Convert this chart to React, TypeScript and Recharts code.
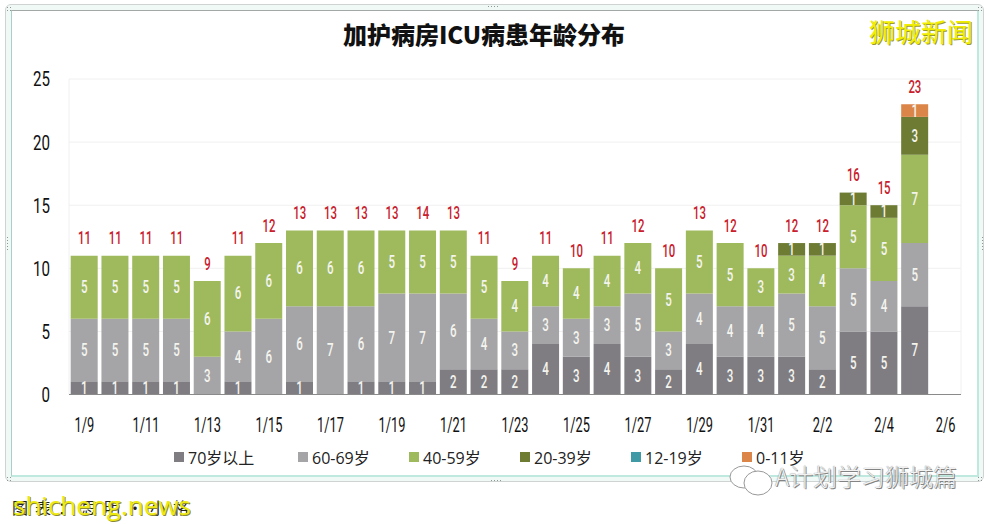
import React from 'react';
import { ComposedChart, Bar, Line, XAxis, YAxis, CartesianGrid, LabelList } from 'recharts';

const dates = ['1/9','1/10','1/11','1/12','1/13','1/14','1/15','1/16','1/17','1/18','1/19','1/20','1/21','1/22','1/23','1/24','1/25','1/26','1/27','1/28','1/29','1/30','1/31','2/1','2/2','2/3','2/4','2/5','2/6'];
const over70 = [1,1,1,1,0,1,0,1,0,1,1,1,2,2,2,4,3,4,3,2,4,3,3,3,2,5,5,7,0];
const age60 = [5,5,5,5,3,4,6,6,7,6,7,7,6,4,3,3,3,3,5,3,4,4,4,5,5,5,4,5,0];
const age40 = [5,5,5,5,6,6,6,6,6,6,5,5,5,5,4,4,4,4,4,5,5,5,3,3,4,5,5,7,0];
const age20 = [0,0,0,0,0,0,0,0,0,0,0,0,0,0,0,0,0,0,0,0,0,0,0,1,1,1,1,3,0];
const age12 = [0,0,0,0,0,0,0,0,0,0,0,0,0,0,0,0,0,0,0,0,0,0,0,0,0,0,0,0,0];
const age0 = [0,0,0,0,0,0,0,0,0,0,0,0,0,0,0,0,0,0,0,0,0,0,0,0,0,0,0,1,0];
// printed totals, 1/20 says 14 on the picture though the bar stops at 13
const totals = [11,11,11,11,9,11,12,13,13,13,13,14,13,11,9,11,10,11,12,10,13,12,10,12,12,16,15,23,null];

const data = dates.map((date, i) => ({
  date,
  over70: over70[i],
  age60: age60[i],
  age40: age40[i],
  age20: age20[i],
  age12: age12[i],
  age0: age0[i],
  total: totals[i],
  top: totals[i] === null ? null : over70[i] + age60[i] + age40[i] + age20[i] + age12[i] + age0[i],
}));

const series = [
  { key: 'over70', name: '70岁以上', color: '#7f7d82' },
  { key: 'age60', name: '60-69岁', color: '#a5a4a7' },
  { key: 'age40', name: '40-59岁', color: '#9fba5c' },
  { key: 'age20', name: '20-39岁', color: '#6d7b33' },
  { key: 'age12', name: '12-19岁', color: '#3f9aa6' },
  { key: 'age0', name: '0-11岁', color: '#dc8548' },
];

// no condensed face installed, so Roboto gets squeezed horizontally
const Squeezed = ({ x, y, text, size, sx, fill, anchor = 'middle', weight = 400 }: any) => (
  <text
    transform={`translate(${x},${y}) scale(${sx},1)`}
    textAnchor={anchor}
    dominantBaseline="central"
    fontFamily="Roboto"
    fontSize={size}
    fontWeight={weight}
    fill={fill}
  >
    {text}
  </text>
);

const XTick = ({ x, y, payload }: any) => <Squeezed x={x} y={y} text={payload.value} size={20} sx={0.64} fill="#111" />;
const YTick = ({ x, y, payload }: any) => <Squeezed x={x} y={y} text={payload.value} size={21} sx={0.72} fill="#111" anchor="end" />;

const SegmentLabel = ({ x, y, width, height, value }: any) =>
  value ? <Squeezed x={x + width / 2} y={y + height / 2} text={value} size={18} sx={0.64} fill="#f4f4ee" weight={500} /> : null;

const TotalLabel = ({ x, y, value }: any) =>
  value == null ? null : <Squeezed x={x} y={y - 18} text={value} size={19} sx={0.6} fill="#c8202c" weight={500} />;

const LegendRow = () => (
  <div style={{ position: 'absolute', left: 174, top: 446, display: 'flex', fontFamily: '"Open Sans", "Noto Sans CJK SC", sans-serif', fontSize: 16, color: '#222', whiteSpace: 'nowrap' }}>
    {series.map((s, i) => (
      <div key={s.key} style={{ width: i === 0 ? 124 : 111, display: 'flex', alignItems: 'center', height: 22 }}>
        <span style={{ width: 10, height: 10, background: s.color, marginRight: 4 }} />
        {s.name}
      </div>
    ))}
  </div>
);

const handle = (left: number, top: number, w: number, h: number) => (
  <div style={{ position: 'absolute', left, top, width: w, height: h, backgroundImage: 'radial-gradient(#8f9694 40%, transparent 45%)', backgroundSize: '3px 3px' }} />
);

export default function App() {
  return (
    <div style={{ position: 'fixed', left: 0, top: 0, width: 989, height: 524, background: '#fff', overflow: 'hidden' }}>
      <div style={{ position: 'absolute', left: 5, top: 4, width: 979, height: 478, border: '1px solid #cfd4d2', borderRadius: 6, background: '#f1f9f7', boxSizing: 'border-box' }} />
      <div style={{ position: 'absolute', left: 11, top: 10, width: 968, height: 467, background: '#fff', borderTop: '1px solid #a3a8a6', borderLeft: '1px solid #a9cfc8', borderRight: '2px solid #bfe8de', borderBottom: '2px solid #bfe8de', boxSizing: 'border-box' }} />
      {handle(487, 5, 12, 3)}
      {handle(490, 479, 12, 3)}
      {handle(6, 236, 3, 15)}
      {handle(981, 236, 3, 15)}
      {handle(6, 6, 6, 6)}
      {handle(977, 6, 6, 6)}
      {handle(6, 476, 6, 5)}
      {handle(977, 476, 6, 5)}
      <div style={{ position: 'absolute', left: 0, width: 968, top: 16, textAlign: 'center', fontFamily: '"Noto Sans CJK SC"', fontWeight: 900, fontSize: 24, color: '#111' }}>加护病房ICU病患年龄分布</div>
      <ComposedChart width={989} height={524} data={data} margin={{ top: 79, right: 28, bottom: 99.5, left: 19 }} style={{ position: 'absolute', left: 0, top: 0 }} barCategoryGap="5.5%">
        <CartesianGrid
          stroke="#f0f0f0"
          verticalCoordinatesGenerator={({ offset }: any) => [offset.left, offset.left + offset.width]}
        />
        <XAxis dataKey="date" interval={1} axisLine={{ stroke: '#8a8a8a' }} tickLine={false} tickMargin={24} tick={<XTick />} />
        <YAxis domain={[0, 25]} ticks={[0, 5, 10, 15, 20, 25]} width={50} axisLine={false} tickLine={false} tickMargin={13} tick={<YTick />} />
        {series.map((s) => (
          <Bar key={s.key} dataKey={s.key} name={s.name} stackId="a" fill={s.color} isAnimationActive={false}>
            <LabelList dataKey={s.key} content={<SegmentLabel />} />
          </Bar>
        ))}
        <Line dataKey="top" stroke="none" dot={false} activeDot={false} legendType="none" isAnimationActive={false}>
          <LabelList dataKey="total" content={<TotalLabel />} />
        </Line>
      </ComposedChart>
      <LegendRow />
      <div style={{ position: 'absolute', left: 869, top: 12, fontFamily: '"Noto Sans CJK SC"', fontWeight: 400, fontSize: 26, color: '#f2ee00', textShadow: '1px 1px 0 #9a9a30', whiteSpace: 'nowrap' }}>狮城新闻</div>
      <div style={{ position: 'absolute', left: 12, top: 495, fontFamily: '"Noto Sans CJK SC"', fontSize: 16, color: '#222', whiteSpace: 'nowrap', letterSpacing: 7 }}>图表：思明•小格</div>
      <div style={{ position: 'absolute', left: 13, top: 487, fontFamily: '"Open Sans"', fontSize: 26, color: '#eeea10', textShadow: '1px 1px 0 #8a8a30', whiteSpace: 'nowrap' }}>shicheng.news</div>
      <svg width={50} height={34} style={{ position: 'absolute', left: 728, top: 463 }}>
        <ellipse cx={16} cy={14} rx={14} ry={11} fill="#fff" stroke="#999" />
        <ellipse cx={30} cy={20} rx={14} ry={12} fill="#fff" stroke="#999" />
      </svg>
      <div style={{ position: 'absolute', left: 775, top: 458, fontFamily: '"Noto Sans CJK SC"', fontWeight: 300, fontSize: 24, color: '#f2f2f2', textShadow: '0 0 1px #666, 1px 1px 0 #888', whiteSpace: 'nowrap' }}>A计划学习狮城篇</div>
    </div>
  );
}
